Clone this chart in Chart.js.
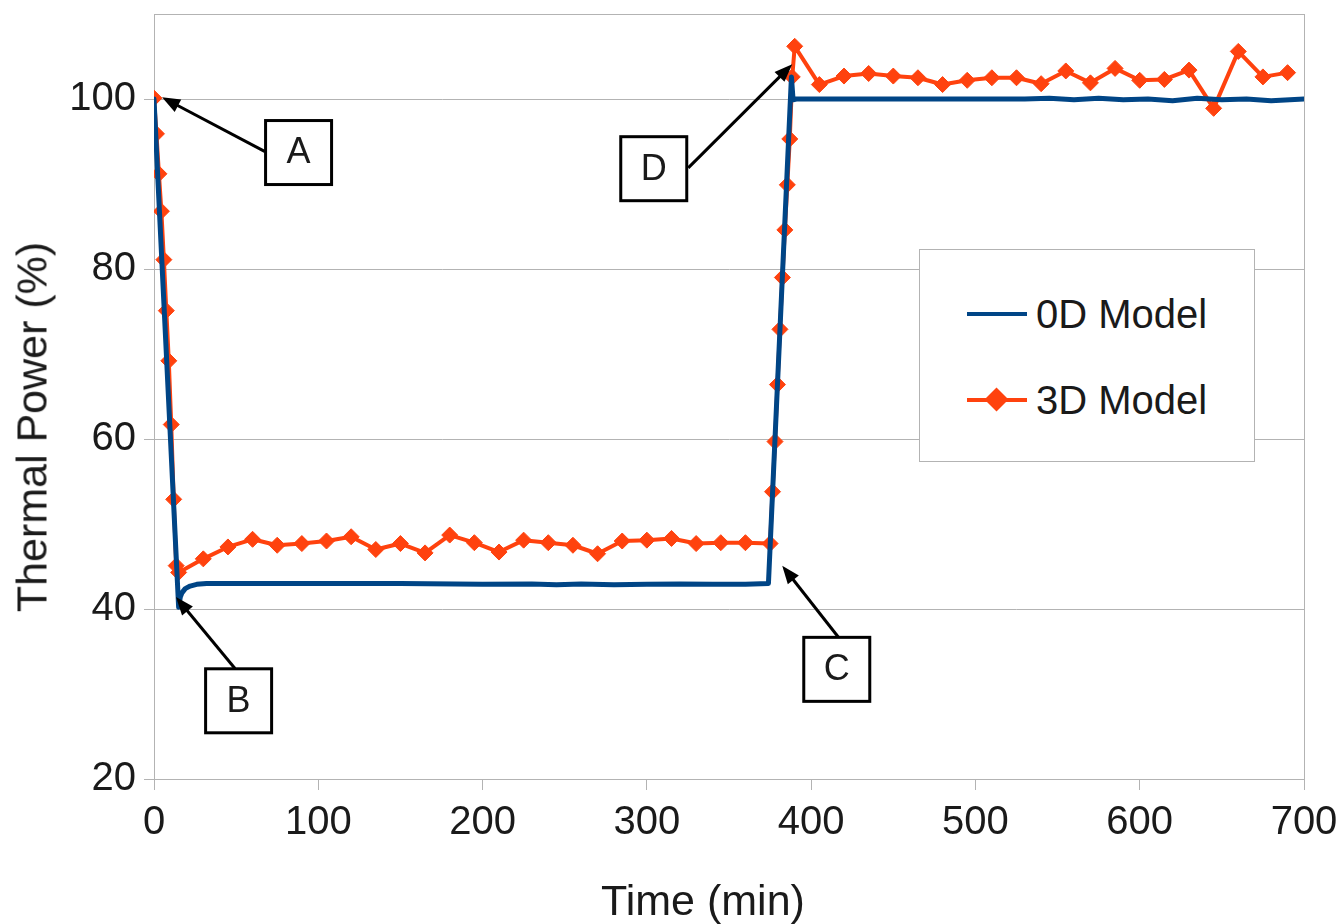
<!DOCTYPE html>
<html>
<head>
<meta charset="utf-8">
<script src="https://cdn.jsdelivr.net/npm/chart.js@4.4.1/dist/chart.umd.min.js"></script>
<style>
    body { margin: 0; background: #fff; }
    #wrap { position: relative; width: 1341px; height: 924px; font-family: "Liberation Sans", Arial, sans-serif; color: #1a1a1a; }
    #legend {
        position: absolute; left: 919px; top: 249px; width: 334px; height: 211px;
        border: 1px solid #b3b3b3; background: #fff; font-size: 40px;
    }
    .row { position: absolute; left: 47px; height: 40px; display: flex; align-items: center; }
    .sample { position: relative; width: 60px; height: 4px; margin-right: 9px; }
    .diamond { position: absolute; left: 21px; top: -7px; width: 17px; height: 17px; transform: rotate(45deg); background: #ff420e; }
    .axis-title { position: absolute; font-size: 43px; line-height: 1; white-space: nowrap; transform: translate(-50%, -50%); }
</style>
</head>
<body>
<div id="wrap">
    <canvas id="chart" width="1341" height="924"></canvas>
    <div class="axis-title" style="left: 703px; top: 900px;">Time (min)</div>
    <div class="axis-title" style="left: 32px; top: 427px; transform: translate(-50%, -50%) rotate(-90deg);">Thermal Power (%)</div>
    <div id="legend">
        <div class="row" style="top: 44px;"><div class="sample" style="background:#004586;"></div>0D Model</div>
        <div class="row" style="top: 130px;"><div class="sample" style="background:#ff420e;"><div class="diamond"></div></div>3D Model</div>
    </div>
</div>
<script>
// tick labels
const xTicks = [0, 100, 200, 300, 400, 500, 600, 700];
const yTicks = [20, 40, 60, 80, 100];

// 0D model (lumped), time in min, thermal power in %
const zeroDTime = [0, 15, 16, 17, 19, 22, 26, 32, 45, 100, 150, 200, 230, 245, 260, 280, 300, 320, 340, 360, 374,
    388, 389, 391, 420, 480, 530, 545, 560, 575, 590, 605, 620, 635, 650, 665, 680, 700];
const zeroDPower = [100, 40.2, 41.4, 41.9, 42.4, 42.7, 42.9, 43.0, 43.0, 43.0, 43.0, 42.9, 42.95, 42.85, 42.95, 42.85, 42.9, 42.95, 42.9, 42.9, 43.0,
    102.6, 99.9, 100.0, 100.0, 100.0, 100.0, 100.1, 99.9, 100.1, 99.9, 100.0, 99.8, 100.1, 99.9, 100.0, 99.8, 100.0];

// 3D model
const threeDTime = [0, 1.5, 3, 4.5, 6, 7.5, 9, 10.5, 12, 13.5, 15,
    30, 45, 60, 75, 90, 105, 120, 135, 150, 165, 180, 195, 210, 225, 240, 255, 270, 285, 300, 315, 330, 345, 360, 375,
    376.5, 378, 379.5, 381, 382.5, 384, 385.5, 387, 388.5, 390,
    405, 420, 435, 450, 465, 480, 495, 510, 525, 540, 555, 570, 585, 600, 615, 630, 645, 660, 675, 690];
const threeDPower = [100.1, 95.9, 91.2, 86.8, 81.1, 75.1, 69.2, 61.7, 52.9, 45.1, 44.3,
    45.9, 47.3, 48.2, 47.5, 47.7, 48.0, 48.5, 47.0, 47.7, 46.6, 48.7, 47.8, 46.7, 48.1, 47.8, 47.5, 46.5, 48.0, 48.1, 48.3, 47.7, 47.8, 47.8, 47.7,
    53.8, 59.7, 66.4, 72.9, 79.0, 84.6, 89.9, 95.3, 102.6, 106.2,
    101.7, 102.7, 103.0, 102.7, 102.5, 101.7, 102.2, 102.5, 102.5, 101.8, 103.3, 101.9, 103.6, 102.2, 102.3, 103.4, 98.9, 105.6, 102.6, 103.1];

// labelled callouts: box centre and arrow, in data units
const callouts = [
    { text: 'A', box: [88.0, 93.7], from: [67.6, 93.8], tip: [4.9, 100.2] },
    { text: 'B', box: [51.5, 29.2], from: [49.3, 33.0], tip: [13.4, 41.4] },
    { text: 'C', box: [415.6, 32.9], from: [416.5, 36.7], tip: [382.4, 45.1] },
    { text: 'D', box: [304.2, 91.8], from: [325.2, 91.9], tip: [388.5, 104.1] }
];

const FONT = '"Liberation Sans", Arial, sans-serif';
const GRID = '#b3b3b3';

const toPoints = (xs, ys) => xs.map((x, i) => ({ x: x, y: ys[i] }));

// frame around the plot area
const framePlugin = {
    id: 'frame',
    beforeDatasetsDraw(chart) {
        const { ctx, chartArea: a } = chart;
        ctx.save();
        ctx.strokeStyle = GRID;
        ctx.lineWidth = 1;
        ctx.strokeRect(a.left + 0.5, a.top + 0.5, a.right - a.left, a.bottom - a.top);
        ctx.restore();
    }
};

// boxes with arrows
const calloutPlugin = {
    id: 'callouts',
    afterDatasetsDraw(chart) {
        const ctx = chart.ctx;
        const xs = chart.scales.x, ys = chart.scales.y;
        ctx.save();
        callouts.forEach(c => {
            const x0 = xs.getPixelForValue(c.from[0]), y0 = ys.getPixelForValue(c.from[1]);
            const x1 = xs.getPixelForValue(c.tip[0]), y1 = ys.getPixelForValue(c.tip[1]);
            const ang = Math.atan2(y1 - y0, x1 - x0);
            const head = 18, half = 7;
            ctx.strokeStyle = '#000';
            ctx.fillStyle = '#000';
            ctx.lineWidth = 3;
            ctx.beginPath();
            ctx.moveTo(x0, y0);
            ctx.lineTo(x1 - Math.cos(ang) * head * 0.8, y1 - Math.sin(ang) * head * 0.8);
            ctx.stroke();
            ctx.beginPath();
            ctx.moveTo(x1, y1);
            ctx.lineTo(x1 - Math.cos(ang) * head - Math.sin(ang) * half, y1 - Math.sin(ang) * head + Math.cos(ang) * half);
            ctx.lineTo(x1 - Math.cos(ang) * head + Math.sin(ang) * half, y1 - Math.sin(ang) * head - Math.cos(ang) * half);
            ctx.closePath();
            ctx.fill();

            const bx = xs.getPixelForValue(c.box[0]), by = ys.getPixelForValue(c.box[1]);
            const w = 66, h = 64;
            ctx.fillStyle = '#fff';
            ctx.fillRect(bx - w / 2, by - h / 2, w, h);
            ctx.lineWidth = 3;
            ctx.strokeRect(bx - w / 2, by - h / 2, w, h);
            ctx.fillStyle = '#1a1a1a';
            ctx.font = '36px ' + FONT;
            ctx.textAlign = 'center';
            ctx.textBaseline = 'middle';
            ctx.fillText(c.text, bx, by + 1);
        });
        ctx.restore();
    }
};

new Chart(document.getElementById('chart'), {
    type: 'line',
    data: {
        datasets: [
            {
                label: '0D Model',
                data: toPoints(zeroDTime, zeroDPower),
                borderColor: '#004586',
                backgroundColor: '#004586',
                borderWidth: 5,
                borderJoinStyle: 'round',
                borderCapStyle: 'round',
                pointRadius: 0,
                tension: 0
            },
            {
                label: '3D Model',
                data: toPoints(threeDTime, threeDPower),
                borderColor: '#ff420e',
                backgroundColor: '#ff420e',
                borderWidth: 4,
                borderJoinStyle: 'round',
                pointStyle: 'rectRot',
                pointRadius: 8,
                pointBorderWidth: 1,
                tension: 0
            }
        ]
    },
    options: {
        responsive: false,
        animation: false,
        devicePixelRatio: 1,
        layout: { padding: { left: 0, right: 37, top: 14, bottom: 0 } },
        plugins: {
            legend: { display: false },
            tooltip: { enabled: false }
        },
        scales: {
            x: {
                type: 'linear',
                min: 0,
                max: 700,
                afterBuildTicks: s => { s.ticks = xTicks.map(v => ({ value: v })); },
                afterFit: s => { s.height = 145; s.paddingLeft = 0; s.paddingRight = 0; },
                grid: { drawOnChartArea: false, color: GRID, tickLength: 11 },
                border: { color: GRID },
                ticks: { color: '#1a1a1a', font: { family: FONT, size: 40 }, padding: 9, maxRotation: 0 }
            },
            y: {
                type: 'linear',
                min: 20,
                max: 110,
                afterBuildTicks: s => { s.ticks = yTicks.map(v => ({ value: v })); },
                afterFit: s => { s.width = 154; s.paddingTop = 0; s.paddingBottom = 0; },
                grid: { color: GRID, tickLength: 10 },
                border: { color: GRID },
                ticks: { color: '#1a1a1a', font: { family: FONT, size: 40 }, padding: 8 }
            }
        }
    },
    plugins: [framePlugin, calloutPlugin]
});
</script>
</body>
</html>
